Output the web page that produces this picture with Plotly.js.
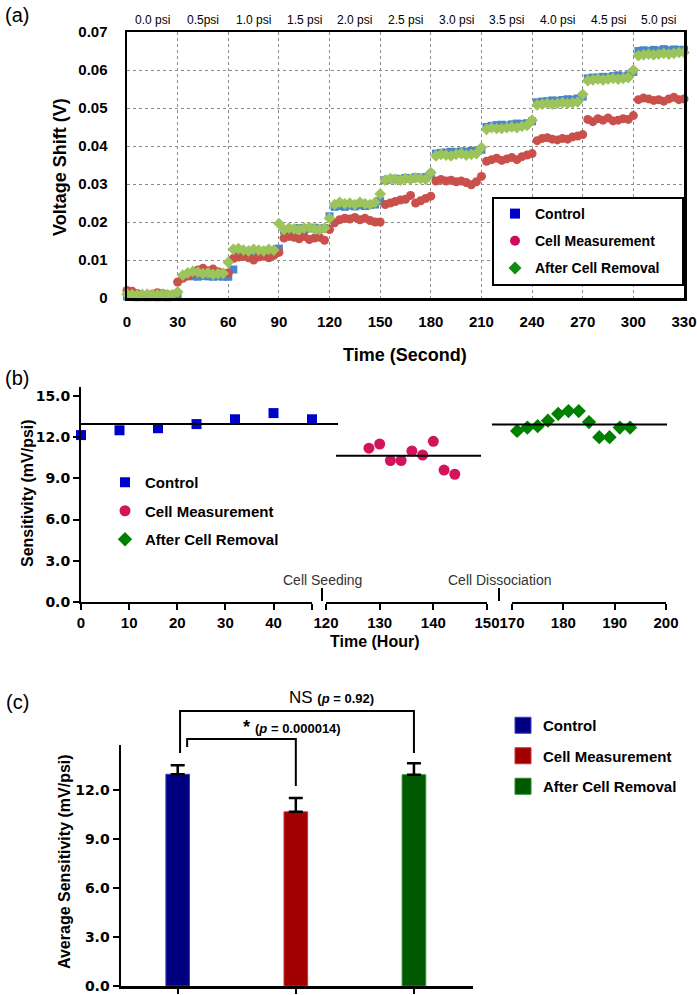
<!DOCTYPE html>
<html>
<head>
<meta charset="utf-8">
<script src="https://cdn.plot.ly/plotly-3.0.1.min.js"></script>
<style>
  html, body { margin: 0; padding: 0; background: #fff; }
  #graphDiv { width: 697px; height: 995px; }
</style>
</head>
<body>
<div id="graphDiv"></div>
<script>
// (a) voltage shift readings, mV, one every 3 s from 0 to 330 s
var ctrlMv = [
  0.4, 0.3, 0.2, 0.3, 0.2, 0.3, 0.2, 0.3, 0.2, 0.3,
  0.4, 5.5, 5.8, 5.7, 5.6, 5.8, 5.7, 5.6, 5.7, 5.6,
  5.6, 7.5, 11.4, 11.6, 11.5, 11.4, 11.6, 11.5, 11.8, 12.0,
  13.0, 17.8, 18.0, 18.2, 18.4, 18.1, 18.3, 18.5, 18.2, 18.4,
  21.5, 24.0, 24.2, 24.0, 24.3, 24.1, 24.4, 24.2, 24.5, 24.6,
  25.5, 31.0, 31.2, 31.4, 31.2, 31.6, 31.4, 31.8, 31.6, 31.8,
  32.5, 38.0, 38.2, 38.3, 38.5, 38.4, 38.6, 38.5, 38.7, 38.8,
  39.0, 45.0, 45.3, 45.5, 45.6, 45.4, 45.7, 45.9, 45.8, 46.0,
  46.5, 51.5, 51.7, 51.8, 52.0, 51.9, 52.1, 52.3, 52.2, 52.5,
  53.0, 57.8, 58.0, 58.0, 58.2, 58.1, 58.4, 58.6, 58.3, 58.6,
  59.5, 65.0, 65.2, 65.0, 65.3, 65.1, 65.5, 65.2, 65.4, 65.3,
  65.3
];
var cellMv = [
  2.0, 1.8, 1.2, 0.8, 0.6, 1.0, 1.4, 1.2, 0.9, 0.8,
  4.2, 5.2, 5.8, 6.4, 7.4, 7.8, 7.2, 7.6, 6.9, 6.6,
  6.6, 10.4, 10.8, 11.0, 10.6, 10.0, 10.8, 11.0, 10.6, 11.2,
  12.0, 15.8, 16.2, 16.0, 15.6, 16.2, 15.4, 15.8, 16.0, 15.2,
  18.0, 19.8, 20.6, 21.0, 20.8, 21.2, 20.6, 21.0, 20.4, 20.0,
  20.0, 24.6, 25.0, 25.4, 25.8, 26.0, 27.0, 25.0, 25.6, 26.2,
  26.8, 30.8, 31.2, 30.8, 31.0, 30.6, 30.8, 30.4, 29.8, 30.6,
  32.0, 36.0, 36.4, 36.8, 36.2, 36.6, 37.0, 36.4, 37.2, 37.6,
  38.0, 41.4, 42.0, 42.2, 41.8, 41.6, 42.0, 41.8, 42.4, 42.6,
  43.0, 47.0, 46.4, 47.2, 46.8, 47.4, 46.6, 46.8, 47.2, 47.0,
  48.0, 52.2, 52.6, 52.4, 52.0, 52.2, 51.8, 52.4, 52.8, 52.2,
  52.4
];
var afterMv = [
  1.0, 0.9, 0.8, 0.9, 1.0, 0.8, 0.9, 1.0, 0.8, 0.9,
  1.6, 6.0, 6.6, 7.0, 6.8, 6.4, 6.6, 6.2, 6.4, 6.5,
  9.4, 12.8, 13.0, 12.6, 12.4, 12.8, 12.6, 12.4, 12.8, 12.6,
  19.6, 18.0, 18.4, 18.2, 18.0, 18.4, 18.6, 18.2, 18.0, 18.4,
  21.0, 24.6, 25.2, 24.8, 25.0, 24.6, 25.2, 24.8, 24.6, 25.2,
  27.4, 31.0, 31.4, 31.2, 31.0, 31.4, 31.2, 31.6, 31.4, 31.2,
  33.0, 37.4, 37.8, 37.6, 37.4, 37.8, 38.0, 37.6, 37.8, 38.0,
  39.6, 44.4, 44.8, 44.6, 44.6, 44.8, 45.0, 44.8, 45.2, 45.4,
  46.8, 50.8, 51.0, 51.2, 51.0, 51.2, 51.4, 51.2, 51.4, 51.6,
  53.6, 57.2, 57.4, 57.6, 57.4, 57.6, 57.8, 57.6, 57.8, 58.0,
  60.0, 63.8, 64.0, 64.2, 64.0, 64.2, 64.4, 64.2, 64.4, 64.6,
  64.6
];
var psiLabels = ['0.0 psi', '0.5psi', '1.0 psi', '1.5 psi', '2.0 psi', '2.5 psi',
                 '3.0 psi', '3.5 psi', '4.0 psi', '4.5 psi', '5.0 psi'];
var groups = ['Control', 'Cell Measurement', 'After Cell Removal'];

// (b) sensitivity per measurement
var ctrlHours = [0, 8, 16, 24, 32, 40, 48];
var ctrlSens = [12.15, 12.5, 12.65, 12.95, 13.3, 13.75, 13.3];
var cellHours = [128, 130, 132, 134, 136, 138, 140, 142, 144];
var cellSens = [11.2, 11.5, 10.3, 10.3, 11.0, 10.7, 11.7, 9.6, 9.3];
var afterHours = [171, 173, 175, 177, 179, 181, 183, 185, 187, 189, 191, 193];
var afterSens = [12.45, 12.7, 12.8, 13.2, 13.7, 13.9, 13.9, 13.1, 12.0, 12.0, 12.7, 12.7];

// (c) averages
var sensMeans = [12.95, 10.65, 12.92];
var sensErr = [0.55, 0.85, 0.7];

var W = 697, H = 995;
var FONT = 'Arial, "Liberation Sans", sans-serif';
var WIDE = '"DejaVu Sans", Verdana, sans-serif';
function px(x) { return x / W; }
function py(y) { return 1 - y / H; }

var timeSec = ctrlMv.map(function (v, i) { return i * 3; });
function toV(arr) { return arr.map(function (v) { return v / 1000; }); }

var dataColA = ['#4a86cc', '#c9504b', '#9cc45a'];
var legColA = ['#0000cc', '#d10a5b', '#138a13'];
var symbols = ['square', 'circle', 'diamond'];
var colB = ['#0000cc', '#d4145a', '#008000'];
var colC = ['#000080', '#a00000', '#005800'];
var edgeC = ['#3a3ad0', '#d03030', '#2a8a2a'];

function drawGraph() {
  var data = [];
  var seriesA = [ctrlMv, cellMv, afterMv];
  for (var i = 0; i < 3; i++) {
    data.push({
      x: timeSec, y: toV(seriesA[i]), type: 'scatter', mode: 'markers',
      xaxis: 'x', yaxis: 'y', showlegend: false, cliponaxis: false,
      marker: {symbol: symbols[i], size: i == 0 ? 8 : 9, color: dataColA[i]},
      hoverinfo: 'skip'
    });
  }
  // legend entries for (a)
  for (var i = 0; i < 3; i++) {
    data.push({
      x: [null], y: [null], type: 'scatter', mode: 'markers', name: groups[i],
      xaxis: 'x', yaxis: 'y', legend: 'legend', legendgroup: 'a' + i,
      marker: {symbol: symbols[i], size: 10, color: legColA[i]}
    });
  }
  // (b)
  var hoursB = [ctrlHours, cellHours, afterHours];
  var sensB = [ctrlSens, cellSens, afterSens];
  var xaxB = ['x2', 'x3', 'x4'];
  for (var i = 0; i < 3; i++) {
    data.push({
      x: hoursB[i], y: sensB[i], type: 'scatter', mode: 'markers', name: groups[i],
      xaxis: xaxB[i], yaxis: 'y2', legend: 'legend2', legendgroup: 'b' + i,
      cliponaxis: false,
      marker: {symbol: symbols[i], size: i == 0 ? 10 : 11, color: colB[i]}
    });
  }
  // (c)
  for (var i = 0; i < 3; i++) {
    data.push({
      x: [i], y: [sensMeans[i]], type: 'bar', name: groups[i], width: 0.2,
      xaxis: 'x5', yaxis: 'y3', showlegend: false,
      marker: {color: colC[i], line: {color: edgeC[i], width: 1}},
      error_y: {type: 'data', symmetric: false, array: [sensErr[i]], arrayminus: [0],
                color: '#000', thickness: 2.5, width: 7}
    });
  }
  for (var i = 0; i < 3; i++) {
    data.push({
      x: [null], y: [null], type: 'scatter', mode: 'markers', name: groups[i],
      xaxis: 'x5', yaxis: 'y3', legend: 'legend3', legendgroup: 'c' + i,
      marker: {symbol: 'square', size: 16, color: colC[i], line: {color: edgeC[i], width: 1}}
    });
  }

  var tickBold15 = {family: FONT, size: 15, color: '#000', weight: 'bold'};
  var tickWide = {family: WIDE, size: 14, color: '#000', weight: 'bold'};
  var gridA = {showgrid: true, gridcolor: '#8a8a8a', griddash: 'dot', gridwidth: 1,
               showline: true, mirror: true, linecolor: '#000', linewidth: 2.5,
               zeroline: false, ticks: '', tickfont: tickBold15, fixedrange: true};
  var axB = {showline: true, linecolor: '#000', linewidth: 2, ticks: 'outside',
             ticklen: 6, tickwidth: 2, tickcolor: '#000', showgrid: false,
             zeroline: false, tickfont: tickBold15, ticklabeloverflow: 'allow'};

  var layout = {
    width: W, height: H,
    margin: {l: 0, r: 0, t: 0, b: 0},
    paper_bgcolor: '#fff', plot_bgcolor: 'rgba(0,0,0,0)',
    font: {family: FONT, color: '#000'},
    barmode: 'overlay',
    xaxis: Object.assign({}, gridA, {domain: [px(127), px(684)], range: [0, 330],
      tick0: 0, dtick: 30, anchor: 'y', ticklabelstandoff: 8}),
    yaxis: Object.assign({}, gridA, {domain: [py(298), py(32)], range: [0, 0.07],
      tick0: 0, dtick: 0.01, anchor: 'x', ticklabelstandoff: 14}),
    xaxis2: Object.assign({}, axB, {domain: [px(81), px(312)], range: [0, 48], anchor: 'y2',
      tickvals: [0, 10, 20, 30, 40, 48], ticktext: ['0', '10', '20', '30', '40', '']}),
    xaxis3: Object.assign({}, axB, {domain: [px(326), px(487)], range: [120, 150], anchor: 'y2',
      tickvals: [120, 130, 140, 150]}),
    xaxis4: Object.assign({}, axB, {domain: [px(512), px(666)], range: [170, 200], anchor: 'y2',
      tickvals: [170, 180, 190, 200]}),
    yaxis2: Object.assign({}, axB, {domain: [py(602), py(387)], range: [0, 15.65], anchor: 'x2',
      tickvals: [0, 3, 6, 9, 12, 15], tickformat: '.1f', tickfont: tickWide}),
    xaxis5: Object.assign({}, axB, {domain: [px(121), px(473)], range: [-0.48, 2.5], anchor: 'y3',
      tickvals: [0, 1, 2], showticklabels: false, ticklen: 5, linewidth: 2.5}),
    yaxis3: Object.assign({}, axB, {domain: [py(986), py(745)], range: [0, 14.74], anchor: 'x5',
      tickvals: [0, 3, 6, 9, 12], tickformat: '.1f', linewidth: 2.5, tickfont: tickWide}),
    legend: {x: px(495), y: py(198), xanchor: 'left', yanchor: 'top',
      bgcolor: 'rgba(0,0,0,0)', borderwidth: 0, tracegroupgap: 6,
      font: {family: FONT, size: 14, weight: 'bold'}},
    legend2: {x: px(105), y: py(466), xanchor: 'left', yanchor: 'top',
      bgcolor: 'rgba(0,0,0,0)', tracegroupgap: 6,
      font: {family: FONT, size: 15, weight: 'bold'}},
    legend3: {x: px(503), y: py(709), xanchor: 'left', yanchor: 'top',
      bgcolor: 'rgba(0,0,0,0)', tracegroupgap: 8,
      font: {family: FONT, size: 15, weight: 'bold'}},
    shapes: [],
    annotations: []
  };

  // frame of the (a) legend
  layout.shapes.push({type: 'rect', xref: 'paper', yref: 'paper', layer: 'above',
    x0: px(493), x1: px(683), y0: py(285), y1: py(198),
    fillcolor: '#fff', line: {color: '#000', width: 2}});

  // psi labels above each 30 s interval
  psiLabels.forEach(function (t, i) {
    layout.annotations.push({x: i * 30 + 15, y: py(20), xref: 'x', yref: 'paper',
      xanchor: 'center', yanchor: 'middle',
      text: t, showarrow: false, font: {size: 12, color: '#000'}});
  });

  // mean lines in (b)
  var meanSpan = [[81, 338], [336, 481], [492, 667]];
  for (var i = 0; i < 3; i++) {
    layout.shapes.push({type: 'line', xref: 'paper', yref: 'y2',
      x0: px(meanSpan[i][0]), x1: px(meanSpan[i][1]), y0: sensMeans[i], y1: sensMeans[i],
      line: {color: '#000', width: 2}});
  }
  // axis break marks
  [322, 499].forEach(function (x) {
    layout.shapes.push({type: 'line', xref: 'paper', yref: 'paper',
      x0: px(x), x1: px(x), y0: py(588), y1: py(601), line: {color: '#000', width: 2}});
  });

  // significance brackets in (c)
  function bracket(xa, xb, top, botA, botB) {
    layout.shapes.push({type: 'path', xref: 'x5', yref: 'paper',
      path: 'M' + xa + ',' + py(botA) + ' L' + xa + ',' + py(top) +
            ' L' + xb + ',' + py(top) + ' L' + xb + ',' + py(botB),
      line: {color: '#000', width: 2}});
  }
  bracket(0.02, 2.0, 711, 753, 753);
  bracket(0.08, 1.0, 739, 747, 786);

  var ann = [
    {x: 17, y: 15, text: '(a)', size: 20},
    {x: 17, y: 378, text: '(b)', size: 20},
    {x: 17, y: 702, text: '(c)', size: 20},
    {x: 60, y: 167, text: '<b>Voltage Shift (V)</b>', size: 18, angle: -90},
    {x: 405, y: 355, text: '<b>Time (Second)</b>', size: 18},
    {x: 27, y: 493, text: '<b>Sensitivity (mV/psi)</b>', size: 16, angle: -90},
    {x: 375, y: 641, text: '<b>Time (Hour)</b>', size: 16},
    {x: 64, y: 862, text: '<b>Average Sensitivity (mV/psi)</b>', size: 16, angle: -90},
    {x: 322, y: 580, text: 'Cell Seeding', size: 14, color: '#333'},
    {x: 499, y: 580, text: 'Cell Dissociation', size: 14, color: '#333'}
  ];
  ann.forEach(function (a) {
    layout.annotations.push({x: px(a.x), y: py(a.y), xref: 'paper', yref: 'paper',
      text: a.text, showarrow: false, textangle: a.angle || 0,
      xanchor: 'center', yanchor: 'middle',
      font: {size: a.size, color: a.color || '#000'}});
  });
  layout.annotations.push({x: 1.3, y: py(697), xref: 'x5', yref: 'paper', showarrow: false,
    xanchor: 'center', yanchor: 'middle',
    text: 'NS <b><span style="font-size:13px">(<i>p</i> = 0.92)</span></b>', font: {size: 17}});
  layout.annotations.push({x: 0.97, y: py(727), xref: 'x5', yref: 'paper', showarrow: false,
    xanchor: 'center', yanchor: 'middle',
    text: '<b>* <span style="font-size:13px">(<i>p</i> = 0.000014)</span></b>', font: {size: 18}});

  Plotly.newPlot('graphDiv', data, layout, {staticPlot: true});
}

document.addEventListener('DOMContentLoaded', drawGraph, false);
</script>
</body>
</html>
